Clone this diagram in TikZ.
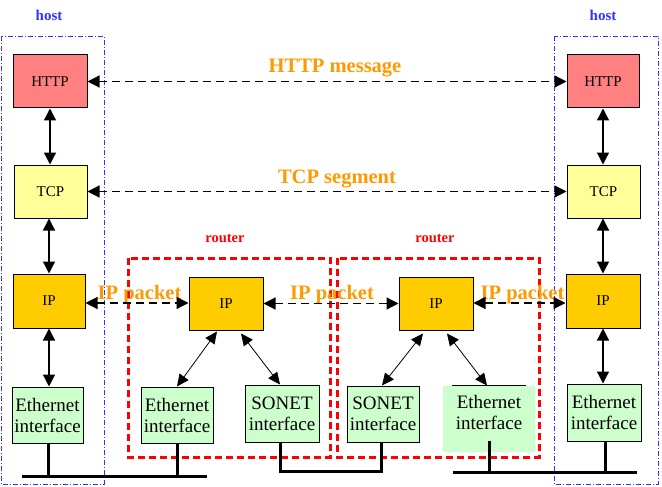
\documentclass[tikz,border=0pt]{standalone}
\usepackage{fontspec}
\setmainfont{Liberation Serif}
\usetikzlibrary{arrows.meta}
\definecolor{httpc}{RGB}{255,128,128}
\definecolor{tcpc}{RGB}{255,255,153}
\definecolor{ipc}{RGB}{255,204,0}
\definecolor{ethc}{RGB}{204,255,204}
\definecolor{orangec}{RGB}{255,153,0}
\definecolor{hostc}{RGB}{51,51,255}
\definecolor{routerc}{RGB}{255,0,0}
\begin{document}
\begin{tikzpicture}[x=1pt,y=-1pt,
  >={Triangle[length=12pt,width=12pt]},
  box/.style={draw=black, line width=1pt, inner sep=0pt, align=center},
  smalltxt/.style={font=\fontsize{15}{17}\selectfont},
  bigtxt/.style={font=\fontsize{19}{21}\selectfont},
  httpbox/.style={box, smalltxt, fill=httpc},
  tcpbox/.style={box, smalltxt, fill=tcpc},
  ipbox/.style={box, smalltxt, fill=ipc},
  ethbox/.style={box, bigtxt, fill=ethc},
  hostframe/.style={draw=hostc, line width=0.8pt, dash pattern=on 5pt off 2pt on 1pt off 2pt},
  routerframe/.style={draw=routerc, line width=3pt, dash pattern=on 7pt off 4pt},
  hostlbl/.style={text=hostc, font=\fontsize{15}{17}\selectfont\bfseries, anchor=base, inner sep=0pt},
  routerlbl/.style={text=routerc, font=\fontsize{14.5}{16}\selectfont\bfseries, anchor=base, inner sep=0pt},
  msglbl/.style={text=orangec, font=\fontsize{20.5}{22}\selectfont\bfseries, anchor=base, inner sep=0pt},
  layerarrow/.style={<->, line width=1.3pt},
  peerarrow/.style={<->, line width=1.2pt, dash pattern=on 8pt off 5pt},
  diagarrow/.style={<->, line width=0.8pt, >={Triangle[length=12pt,width=11pt]}},
  bus/.style={line width=3pt}
]
\useasboundingbox (0,0) rectangle (662,487);

% frames
\draw[hostframe] (1,36) rectangle (104,484);
\draw[hostframe] (554,36) rectangle (658,484);
\draw[routerframe] (128,258) rectangle (330,457);
\draw[routerframe] (337,258) rectangle (539,457);

% labels
\node[hostlbl] (hostL) at (49,21) {host};
\node[hostlbl] (hostR) at (603,21) {host};
\node[routerlbl] (rtr1) at (225,242) {router};
\node[routerlbl] (rtr2) at (435,242) {router};

% left host
\node[httpbox, minimum width=74pt, minimum height=53pt] (httpL) at (50,81.5) {HTTP};
\node[tcpbox, minimum width=73pt, minimum height=53pt] (tcpL) at (50.5,191.5) {TCP};
\node[ipbox, minimum width=72pt, minimum height=54pt] (ipL) at (49,301) {IP};
\node[ethbox, minimum width=71pt, minimum height=56pt] (ethL) at (47.5,415) {Ethernet\\interface};

% right host
\node[httpbox, minimum width=72pt, minimum height=53pt] (httpR) at (603,81.5) {HTTP};
\node[tcpbox, minimum width=73pt, minimum height=53pt] (tcpR) at (603.5,191.5) {TCP};
\node[ipbox, minimum width=74pt, minimum height=54pt] (ipR) at (603,301) {IP};
\node[ethbox, minimum width=74pt, minimum height=57pt] (ethR) at (604,412.5) {Ethernet\\interface};

% router 1
\node[ipbox, minimum width=74pt, minimum height=53pt] (r1ip) at (226,303.5) {IP};
\node[ethbox, minimum width=72pt, minimum height=56pt] (r1eth) at (177,415) {Ethernet\\interface};
\node[ethbox, minimum width=74pt, minimum height=57pt] (r1son) at (282,413.5) {SONET\\interface};

% router 2
\node[ipbox, minimum width=74pt, minimum height=53pt] (r2ip) at (436,303.5) {IP};
\node[ethbox, minimum width=72pt, minimum height=56pt] (r2son) at (383,414) {SONET\\interface};
\node[ethbox, draw=none, minimum width=92pt, minimum height=66pt, text depth=13pt] (r2eth) at (489,419) {Ethernet\\interface};
\draw[line width=1pt] ([xshift=9pt]r2eth.north west) -- ([xshift=-10pt]r2eth.north east);

% message labels
\node[msglbl] (lblhttp) at (335,73) {HTTP message};
\node[msglbl] (lbltcp) at (337,183) {TCP segment};
\node[msglbl] (lblip1) at (139.5,299) {IP packet};
\node[msglbl] (lblip2) at (332,299) {IP packet};
\node[msglbl] (lblip3) at (522.5,299) {IP packet};

% layer arrows
\draw[layerarrow] (httpL.south) -- (httpL.south |- tcpL.north);
\draw[layerarrow] (tcpL.south -| ipL.north) -- (ipL.north);
\draw[layerarrow] (ipL.south) -- (ipL.south |- ethL.north);
\draw[layerarrow] (httpR.south) -- (httpR.south |- tcpR.north);
\draw[layerarrow] (tcpR.south -| ipR.north) -- (ipR.north);
\draw[layerarrow] (ipR.south) -- (ipR.south |- ethR.north);

% peer arrows
\draw[peerarrow] (httpL.east) -- (httpR.west);
\draw[peerarrow] (tcpL.east) -- (tcpL.east -| tcpR.west);
\draw[peerarrow] ([yshift=-2pt]ipL.east) -- ([yshift=-2pt]ipL.east -| r1ip.west);
\draw[peerarrow] (r1ip.east) -- (r2ip.west);
\draw[peerarrow] ([yshift=-2pt]ipR.west -| r2ip.east) -- ([yshift=-2pt]ipR.west);

% router internal arrows
\draw[diagarrow] ([xshift=-9pt,yshift=-1pt]r1ip.south) -- ([xshift=0pt]r1eth.north);
\draw[diagarrow] ([xshift=15pt,yshift=-3pt]r1ip.south) -- ([xshift=-2pt]r1son.north);
\draw[diagarrow] ([xshift=-13pt,yshift=-3pt]r2ip.south) -- ([xshift=-1pt]r2son.north);
\draw[diagarrow] ([xshift=11pt,yshift=-3pt]r2ip.south) -- ([xshift=-2pt]r2eth.north);

% buses
\coordinate (busL1) at (22,476);
\coordinate (busL2) at (207,476);
\coordinate (busR1) at (453,472);
\coordinate (busR2) at (637,472);
\draw[bus] (busL1) -- (busL2);
\draw[bus] ([xshift=1pt]ethL.south) -- ([xshift=1pt]ethL.south |- busL1);
\draw[bus] (r1eth.south) -- (r1eth.south |- busL1);
\draw[bus] ([xshift=-2pt]r1son.south) -- ([xshift=-2pt,yshift=-29pt]r1son.south) -| ([xshift=-2pt]r2son.south);
\draw[bus] (busR1) -- (busR2);
\draw[bus] ([yshift=12pt]r2eth.south) -- (r2eth.south |- busR1);
\draw[bus] ([xshift=1pt]ethR.south) -- ([xshift=1pt]ethR.south |- busR1);
\end{tikzpicture}
\end{document}
